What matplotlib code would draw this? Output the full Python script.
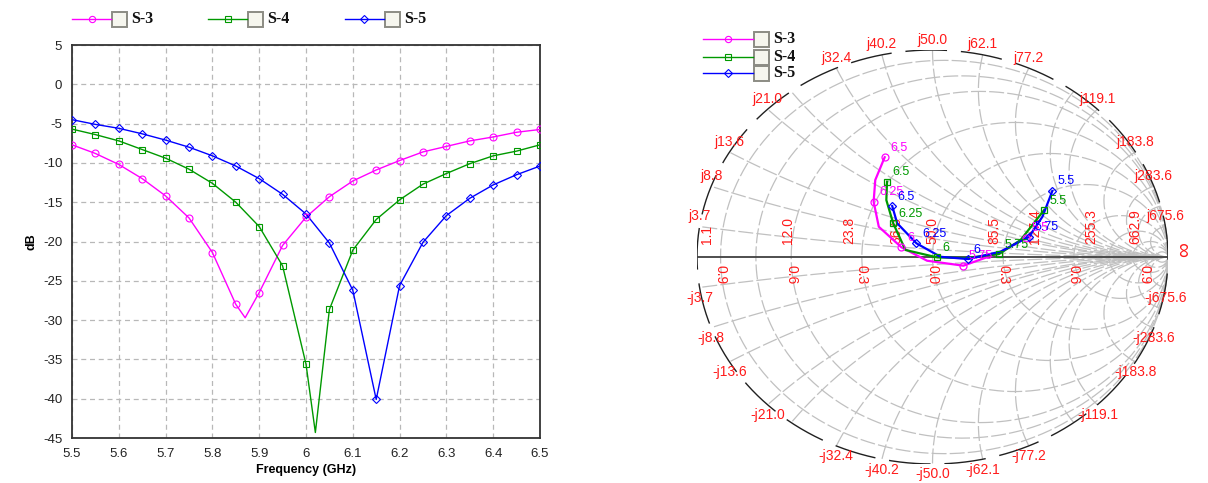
import numpy as np
import matplotlib
matplotlib.use('Agg')
import matplotlib.pyplot as plt
from matplotlib.lines import Line2D
from matplotlib.patches import Rectangle

plt.rcParams['font.family'] = ['Liberation Sans', 'DejaVu Sans']
plt.rcParams['axes.unicode_minus'] = False

# ---- return loss data (dB), 5.5-6.5 GHz sweep
freq_ghz = [5.5, 5.55, 5.6, 5.65, 5.7, 5.75, 5.8, 5.85, 5.9, 5.95, 6.0,
            6.05, 6.1, 6.15, 6.2, 6.25, 6.3, 6.35, 6.4, 6.45, 6.5]
s3_db = [-7.7, -8.8, -10.2, -12.0, -14.2, -17.0, -21.4, -28.0, -26.5, -20.5, -16.9,
         -14.3, -12.3, -10.9, -9.7, -8.6, -7.9, -7.2, -6.7, -6.1, -5.75]
s4_db = [-5.7, -6.4, -7.2, -8.3, -9.4, -10.8, -12.6, -15.0, -18.1, -23.1, -35.6,
         -28.65, -21.1, -17.2, -14.7, -12.7, -11.35, -10.1, -9.1, -8.5, -7.7]
s5_db = [-4.5, -5.1, -5.6, -6.3, -7.1, -8.0, -9.1, -10.4, -12.0, -14.0, -16.5,
         -20.2, -26.2, -40.1, -25.6, -20.1, -16.7, -14.5, -12.8, -11.5, -10.4]
# resonance minima between sweep markers
s3_dip = (5.87, -29.7)
s4_dip = (6.02, -44.3)

x_ticks = [5.5, 5.6, 5.7, 5.8, 5.9, 6.0, 6.1, 6.2, 6.3, 6.4, 6.5]
x_tick_labels = ['5.5', '5.6', '5.7', '5.8', '5.9', '6', '6.1', '6.2', '6.3', '6.4', '6.5']
y_ticks = [5, 0, -5, -10, -15, -20, -25, -30, -35, -40, -45]

# ---- reflection coefficient trace (real, imag) for the Smith chart
smith_freq = [5.5, 5.625, 5.75, 5.875, 6.0, 6.125, 6.25, 6.375, 6.5]
smith_marked = [5.5, 5.75, 6.0, 6.25, 6.5]
s3_re = [0.396, 0.283, 0.131, -0.023, -0.132, -0.228, -0.250, -0.243, -0.203]
s3_im = [0.092, 0.020, -0.042, -0.018, 0.047, 0.146, 0.267, 0.372, 0.482]
s4_re = [0.474, 0.374, 0.282, 0.140, 0.020, -0.115, -0.167, -0.196, -0.193]
s4_im = [0.227, 0.082, 0.014, -0.005, -0.002, 0.034, 0.163, 0.275, 0.364]
s5_re = [0.509, 0.467, 0.410, 0.289, 0.152, 0.034, -0.068, -0.150, -0.171]
s5_im = [0.319, 0.195, 0.098, 0.026, -0.010, 0.001, 0.066, 0.163, 0.246]

# chart annotation values (ohms, Z0 = 50)
z0 = 50.0
reactance_labels = ['3.7', '8.8', '13.6', '21.0', '32.4', '40.2', '50.0', '62.1',
                    '77.2', '119.1', '183.8', '283.6', '675.6']
resistance_labels = ['1.1', '12.0', '23.8', '36.6', '50.0', '85.5', '127.4', '255.3', '662.9']
gamma_ticks = [-0.9, -0.6, -0.3, 0.0, 0.3, 0.6, 0.9]
grid_gamma = [-0.9, -0.75, -0.6, -0.3, 0.0, 0.3, 0.6, 0.75, 0.85, 0.9, 0.95]
grid_x = [0.074, 0.176, 0.272, 0.42, 0.648, 0.804, 1.0, 1.242, 1.544, 2.382,
          3.676, 5.672, 13.5, 0.5, 2.0, 8.0]

series = [
    ('S-3', '#ff00ff', 'o', s3_db, s3_dip, s3_re, s3_im),
    ('S-4', '#009900', 's', s4_db, s4_dip, s4_re, s4_im),
    ('S-5', '#0000ff', 'D', s5_db, None, s5_re, s5_im),
]

W, H = 1208, 483


def fx(x):
    return x / W


def fy(y):
    return 1 - y / H


fig = plt.figure(figsize=(W / 100, H / 100), dpi=100)

# ================= left: |S11| vs frequency
ax = fig.add_axes([fx(72), fy(438), (540 - 72) / W, (438 - 45) / H])
for name, color, marker, db, dip, _, _ in series:
    f_line = list(freq_ghz)
    v_line = list(db)
    if dip is not None:
        f_line.append(dip[0])
        v_line.append(dip[1])
        order = np.argsort(f_line)
        f_line = np.array(f_line)[order]
        v_line = np.array(v_line)[order]
    ax.plot(f_line, v_line, color=color, lw=1.0, zorder=3)
    ms = 4.5 if marker == 'D' else 5.0
    ax.plot(freq_ghz, db, linestyle='none', marker=marker, ms=ms, mfc='none',
            mec=color, mew=0.8, zorder=4)

ax.set_xlim(5.5, 6.5)
ax.set_ylim(-45, 5)
ax.set_xticks(x_ticks)
ax.set_xticklabels(x_tick_labels)
ax.set_yticks(y_ticks)
ax.tick_params(length=0, labelsize=9.5, pad=7, colors='#222222')
ax.grid(True, color='#b8b8b8', linestyle=(0, (4, 3)), lw=0.9)
for sp in ax.spines.values():
    sp.set_color('#333333')
    sp.set_linewidth(1.3)
ax.set_xlabel('Frequency (GHz)', fontsize=9, fontweight='bold', labelpad=3)
ax.set_ylabel('dB', fontsize=9, fontweight='bold', labelpad=4)


def legend_entry(x0, x1, y, color, marker, label):
    fig.add_artist(Line2D([fx(x0), fx(x1)], [fy(y), fy(y)], transform=fig.transFigure,
                          color=color, lw=1.0))
    xm = (x0 + x1) / 2
    fig.add_artist(Line2D([fx(xm)], [fy(y)], transform=fig.transFigure, marker=marker,
                          ms=4.5 if marker != 's' else 4, mfc='none', mec=color, mew=0.8))
    bx = x1 + 1
    fig.add_artist(Rectangle((fx(bx), fy(y + 8)), 15 / W, 15 / H, transform=fig.transFigure,
                             fc='#f6f6ee', ec='#8c8c84', lw=1.4))
    fig.text(fx(bx + 19), fy(y), label, fontsize=11.5, fontweight='bold',
             family='Liberation Serif', va='center', ha='left', color='#111111')


for (name, color, marker, *_), (x0, x1) in zip(series, [(72, 111), (208, 247), (345, 384)]):
    legend_entry(x0, x1, 19, color, marker, name)

# ================= right: Smith chart
sax = fig.add_axes([fx(697), fy(464), 471 / W, 414 / H])
sax.set_xlim(-1, 1)
sax.set_ylim(-1, 1)
sax.axis('off')

grid_kw = dict(color='#c0c0c0', lw=0.9, linestyle=(0, (12, 2.5)), zorder=1)
t = np.linspace(0, 2 * np.pi, 721)
# constant resistance circles
for g in grid_gamma:
    r = (1 + g) / (1 - g)
    c, rad = r / (1 + r), 1 / (1 + r)
    sax.plot(c + rad * np.cos(t), rad * np.sin(t), **grid_kw)
# constant reactance arcs
a = np.linspace(np.pi / 2, 1.5 * np.pi, 600)
for xv in grid_x:
    px = 1 + np.cos(a) / xv
    py = 1 / xv + np.sin(a) / xv
    inside = px ** 2 + py ** 2 <= 1.0005
    sax.plot(px[inside], py[inside], **grid_kw)
    sax.plot(px[inside], -py[inside], **grid_kw)

# outer boundary and real axis
sax.plot(np.cos(t), np.sin(t), color='#202020', lw=1.0, linestyle=(0, (30, 10)), zorder=2)
sax.plot([-1, 1], [0, 0], color='#404040', lw=1.3, zorder=2)

red = '#ff1a1a'
for lbl in reactance_labels:
    xn = float(lbl) / z0
    th = np.pi - 2 * np.arctan(xn)
    cx, cy = np.cos(th), np.sin(th)
    sax.annotate('j' + lbl, (cx, cy), xytext=(0, 2.5), textcoords='offset points',
                 ha='center', va='bottom', color=red, fontsize=10, annotation_clip=False)
    sax.annotate('-j' + lbl, (cx, -cy), xytext=(0, -2.5), textcoords='offset points',
                 ha='center', va='top', color=red, fontsize=10, annotation_clip=False)

for lbl in resistance_labels:
    g = (float(lbl) - z0) / (float(lbl) + z0)
    sax.annotate(lbl, (g, 0), xytext=(0, 9), textcoords='offset points', rotation=90,
                 ha='center', va='bottom', color=red, fontsize=10, zorder=2)

for g in gamma_ticks:
    sax.annotate('%.1f' % abs(g), (g, 0), xytext=(0, -6), textcoords='offset points',
                 rotation=-90, ha='center', va='top', color=red, fontsize=10, zorder=2)

sax.annotate('\u221e', (1, 0), xytext=(12, 5), textcoords='offset points', rotation=90,
             ha='center', va='center', color=red, fontsize=15, annotation_clip=False)

# traces with frequency markers
for name, color, marker, _, _, re_, im_ in series:
    sax.plot(re_, im_, color=color, lw=1.6, zorder=4)
    for f, gr, gi in zip(smith_freq, re_, im_):
        if f in smith_marked:
            sax.plot(gr, gi, marker=marker, ms=5 if marker != 'D' else 4.5, mfc='none',
                     mec=color, mew=0.9, zorder=5)
            sax.annotate('%g' % f, (gr, gi), xytext=(4, 2.5), textcoords='offset points',
                         ha='left', va='bottom', color=color, fontsize=9, zorder=6)

for (name, color, marker, *_), y in zip(series, [39.3, 56.7, 73.3]):
    legend_entry(703, 753, y, color, marker, name)

fig.savefig('out.png', dpi=100, facecolor='white')
